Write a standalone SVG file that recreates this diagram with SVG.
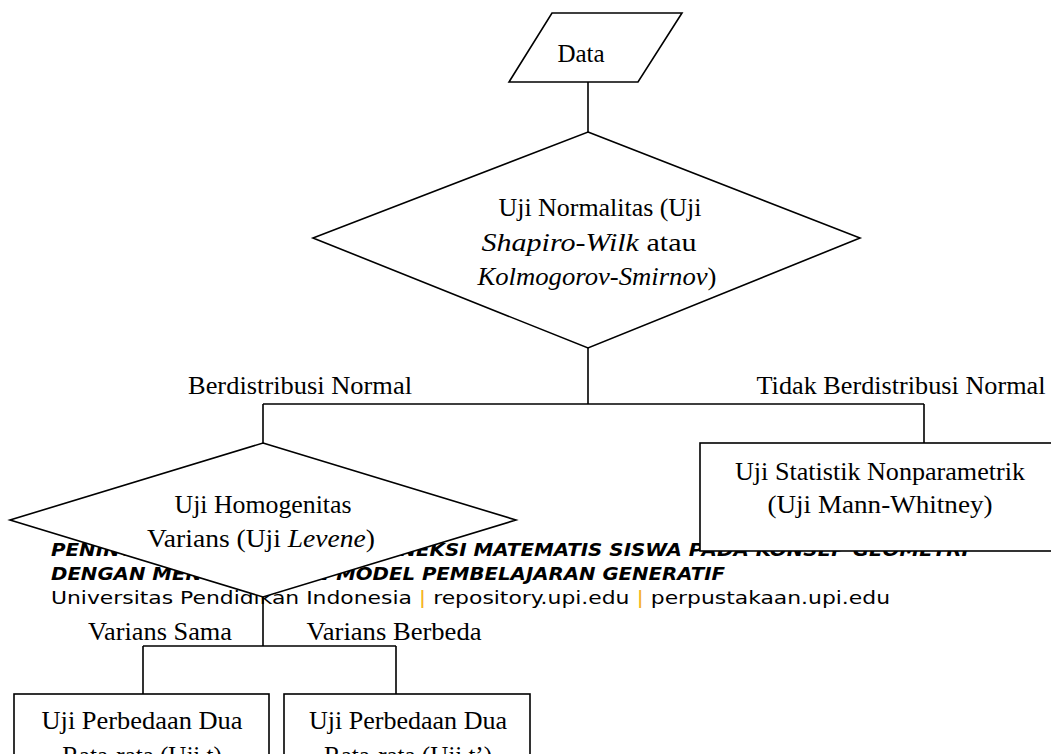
<svg xmlns="http://www.w3.org/2000/svg" width="1051" height="754" viewBox="0 0 1051 754">
<style>
.shape{fill:#fff;stroke:#000;stroke-width:1.6}
.wire{fill:none;stroke:#000;stroke-width:1.6}
.t{font-family:"Liberation Serif","Times New Roman",serif;font-size:25px;fill:#000}
.i{font-style:italic}
.f{font-family:"DejaVu Sans","Open Sans",sans-serif;font-size:18px;fill:#000}
.fb{font-weight:bold;font-style:italic}
.pipe{fill:#F5B321}
</style>
<rect width="1051" height="754" fill="#fff"/>
<g id="footer">
<text class="f fb" x="51" y="556" textLength="918" lengthAdjust="spacingAndGlyphs">PENINGKATAN KEMAMPUAN KONEKSI MATEMATIS SISWA PADA KONSEP GEOMETRI</text>
<text class="f fb" x="51" y="580" textLength="674" lengthAdjust="spacingAndGlyphs">DENGAN MENGGUNAKAN MODEL PEMBELAJARAN GENERATIF</text>
<text class="f" x="51" y="604" textLength="839" lengthAdjust="spacingAndGlyphs">Universitas Pendidikan Indonesia <tspan class="pipe">|</tspan> repository.upi.edu <tspan class="pipe">|</tspan> perpustakaan.upi.edu</text>
</g>
<g id="connectors">
<path class="wire" d="M588 82 V132"/>
<path class="wire" d="M588 348 V404 M263 404 H924 M263 404 V443 M924 404 V443"/>
<path class="wire" d="M263 597 V646 M143 646 H396 M143 646 V694 M396 646 V694"/>
</g>
<g id="labels">
<text class="t" x="300" y="394" text-anchor="middle" textLength="224" lengthAdjust="spacingAndGlyphs">Berdistribusi Normal</text>
<text class="t" x="901" y="394" text-anchor="middle" textLength="289" lengthAdjust="spacingAndGlyphs">Tidak Berdistribusi Normal</text>
<text class="t" x="160" y="640" text-anchor="middle" textLength="144" lengthAdjust="spacingAndGlyphs">Varians  Sama</text>
<text class="t" x="394" y="640" text-anchor="middle" textLength="175" lengthAdjust="spacingAndGlyphs">Varians  Berbeda</text>
</g>
<g id="data">
<polygon class="shape" points="552,13 682,13 638,82 509,82"/>
<text class="t" x="581" y="62" text-anchor="middle">Data</text>
</g>
<g id="normalitas">
<polygon class="shape" points="588,132 860,238 588,348 313,238"/>
<text class="t" x="600" y="216" text-anchor="middle" textLength="203" lengthAdjust="spacingAndGlyphs">Uji Normalitas  (Uji</text>
<text class="t" x="589" y="251" text-anchor="middle" textLength="215" lengthAdjust="spacingAndGlyphs"><tspan class="i">Shapiro-Wilk</tspan> atau</text>
<text class="t" x="597" y="285" text-anchor="middle" textLength="239" lengthAdjust="spacingAndGlyphs"><tspan class="i">Kolmogorov-Smirnov</tspan>)</text>
</g>
<g id="homogenitas">
<polygon class="shape" points="263,443 516,520 263,597 10,520"/>
<text class="t" x="263" y="513" text-anchor="middle" textLength="177" lengthAdjust="spacingAndGlyphs">Uji Homogenitas</text>
<text class="t" x="261" y="547" text-anchor="middle" textLength="228" lengthAdjust="spacingAndGlyphs">Varians  (Uji  <tspan class="i">Levene</tspan>)</text>
</g>
<g id="nonparametrik">
<rect class="shape" x="700" y="443" width="360" height="108"/>
<text class="t" x="880" y="480" text-anchor="middle" textLength="290" lengthAdjust="spacingAndGlyphs">Uji Statistik Nonparametrik</text>
<text class="t" x="880" y="513" text-anchor="middle" textLength="225" lengthAdjust="spacingAndGlyphs">(Uji  Mann-Whitney)</text>
</g>
<g id="ujit">
<rect class="shape" x="14" y="694" width="255" height="80"/>
<text class="t" x="142" y="729" text-anchor="middle" textLength="201" lengthAdjust="spacingAndGlyphs">Uji  Perbedaan  Dua</text>
<text class="t" x="142" y="764" text-anchor="middle">Rata-rata  (Uji  t)</text>
</g>
<g id="ujit2">
<rect class="shape" x="284" y="694" width="246" height="80"/>
<text class="t" x="408" y="729" text-anchor="middle" textLength="198" lengthAdjust="spacingAndGlyphs">Uji  Perbedaan  Dua</text>
<text class="t" x="408" y="764" text-anchor="middle">Rata-rata  (Uji  t’)</text>
</g>
</svg>
